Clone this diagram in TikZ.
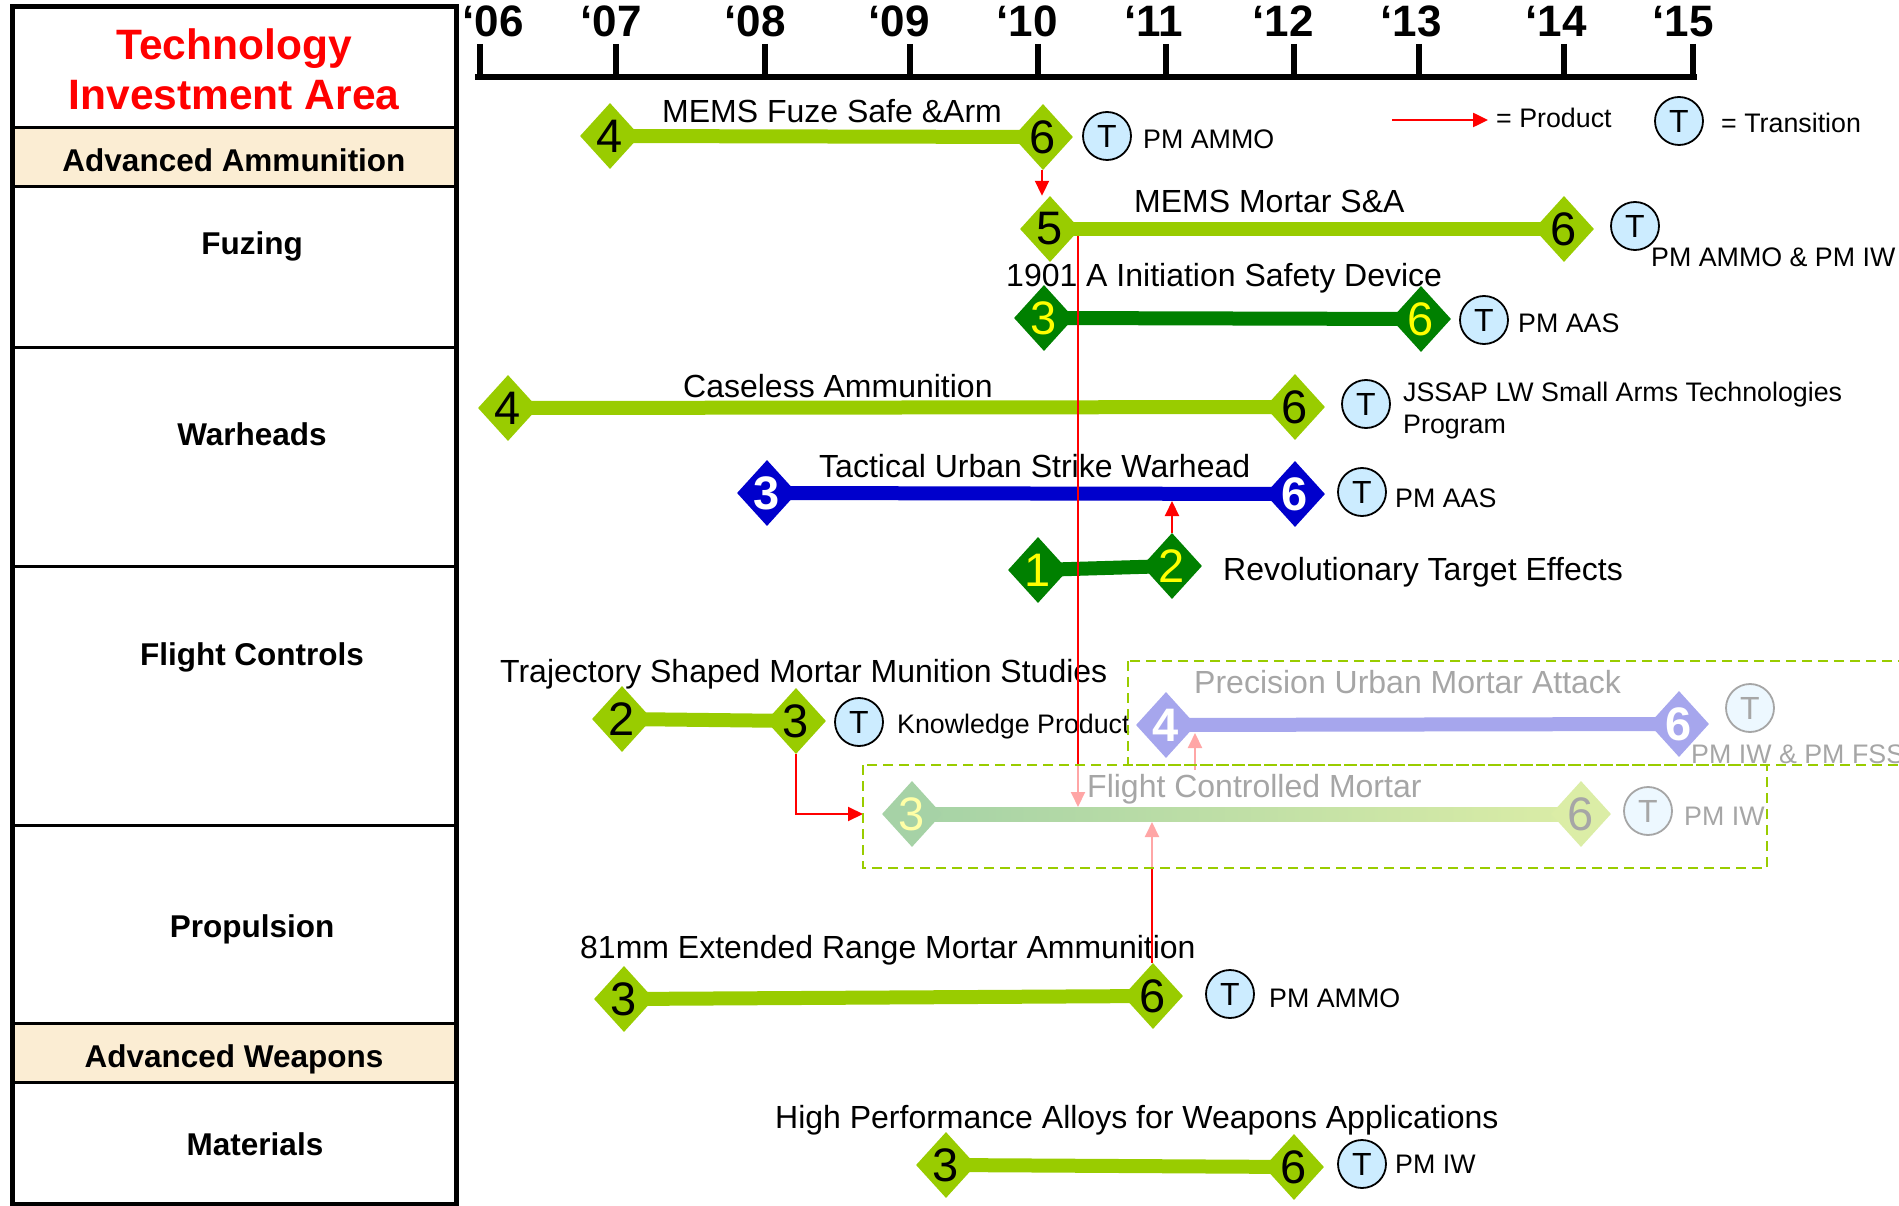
\documentclass[tikz,border=0pt]{standalone}
\usepackage{fontspec}
\setmainfont{Liberation Sans}
\usetikzlibrary{shapes.geometric,arrows.meta,calc}

\definecolor{cLime}{HTML}{99CC00}
\definecolor{cDark}{HTML}{008000}
\definecolor{cBlue}{HTML}{0000CC}
\definecolor{cYel}{HTML}{FFFF00}
\definecolor{cTfill}{HTML}{CCECFF}
\definecolor{cBand}{HTML}{FBEDD3}
\definecolor{cRed}{HTML}{FF0000}

\newcommand{\pxfont}[1]{\fontsize{#1}{#1}\selectfont}

\pgfdeclarelayer{bg}
\pgfdeclarelayer{fade}
\pgfdeclarelayer{top}
\pgfsetlayers{bg,main,fade,top}

\tikzset{
  dia/.style={diamond, minimum width=60pt, minimum height=66pt, inner sep=0pt, draw=none},
  limed/.style={dia, fill=cLime, label={[font=\pxfont{47}, text=black]center:#1}},
  darkd/.style={dia, fill=cDark, label={[font=\pxfont{47}, text=cYel]center:#1}},
  blued/.style={dia, fill=cBlue, label={[font=\pxfont{47}\bfseries, text=white]center:#1}},
  bar/.style={line width=14pt, draw=#1},
  tc/.style={circle, draw=black, line width=1.8pt, fill=cTfill, minimum size=48pt, inner sep=0pt, font=\pxfont{32}},
  lbl/.style={anchor=base west, inner sep=0pt, font=\pxfont{32}},
  pm/.style={anchor=base west, inner sep=0pt, font=\pxfont{26.8}},
  prod/.style={draw=cRed, line width=2pt, -{Triangle[length=15pt,width=14pt]}},
  yr/.style={anchor=base, inner sep=0pt, font=\pxfont{44}\bfseries},
  cat/.style={anchor=base, inner sep=0pt, font=\pxfont{31.5}\bfseries},
  dbox/.style={draw=cLime, line width=2.5pt, dash pattern=on 10pt off 6pt},
  rule/.style={draw=black, line width=3pt},
  veil/.style={fill=white, opacity=0.65}
}

\begin{document}
\begin{tikzpicture}[x=1pt, y=-1pt]
\useasboundingbox (0,0) rectangle (1899,1206);
\clip (0,0) rectangle (1899,1206);

% ---------- left panel: technology investment areas ----------
\fill[cBand] (12,128) rectangle (456,187);
\fill[cBand] (12,1023) rectangle (456,1082);
\foreach \yy in {128,187,348,566,825,1023,1082}
  \draw[rule] (12,\yy) -- (456,\yy);
\draw[line width=5pt] (12,7) rectangle (456,1204);

\node[anchor=base, inner sep=0pt, font=\pxfont{42.5}\bfseries, text=cRed] (h1) at (234,60) {Technology};
\node[anchor=base, inner sep=0pt, font=\pxfont{42.5}\bfseries, text=cRed] (h2) at (234,110) {Investment Area};
\node[cat] (ca1) at (234,172) {Advanced Ammunition};
\node[cat] (ca2) at (252,255) {Fuzing};
\node[cat] (ca3) at (252,445) {Warheads};
\node[cat] (ca4) at (252,665) {Flight Controls};
\node[cat] (ca5) at (252,937) {Propulsion};
\node[cat] (ca6) at (234,1067) {Advanced Weapons};
\node[cat] (ca7) at (255,1155) {Materials};

% ---------- time axis ----------
\draw[line width=6pt] (475,77) -- (1697,77);
\foreach \xx in {480,616,765,910,1038,1166,1294,1419,1564,1693}
  \draw[line width=6pt] (\xx,44) -- (\xx,77);
\node[yr] (y06) at (493,37) {‘06};
\node[yr] (y07) at (611,37) {‘07};
\node[yr] (y08) at (755,37) {‘08};
\node[yr] (y09) at (899,37) {‘09};
\node[yr] (y10) at (1027,37) {‘10};
\node[yr] (y11) at (1154,37) {‘11};
\node[yr] (y12) at (1283,37) {‘12};
\node[yr] (y13) at (1411,37) {‘13};
\node[yr] (y14) at (1556,37) {‘14};
\node[yr] (y15) at (1683,37) {‘15};

% ---------- legend ----------
\coordinate (la) at (1392,120);
\coordinate (lb) at (1488,120);
\draw[prod, line width=2.5pt] (la) -- (lb);
\node[pm] (lg1) at (1496,128) {= Product};
\node[tc] (lgt) at (1679,121) {T};
\node[pm] (lg2) at (1721,133) {= Transition};

% ---------- programs: milestone diamonds ----------
% MEMS Fuze Safe & Arm
\node[limed=4] (a1) at (610,136) {};
\node[limed=6] (a2) at (1043,137) {};
\node[lbl] (at) at (662,123) {MEMS Fuze Safe \&Arm};
\node[tc] (ac) at (1107,136) {T};
\node[pm] (ap) at (1143,149) {PM AMMO};

% MEMS Mortar S&A
\node[limed=5] (b1) at (1050,229) {};
\node[limed=6] (b2) at (1564,229) {};
\node[lbl] (bt) at (1134,213) {MEMS Mortar S\&A};
\node[tc] (bc) at (1635,226) {T};
\node[pm] (bp) at (1651,267) {PM AMMO \& PM IW};

% 1901 A Initiation Safety Device
\node[darkd=3] (c1) at (1044,318) {};
\node[darkd=6] (c2) at (1421,319) {};
\node[lbl] (ct) at (1006,287) {1901 A Initiation Safety Device};
\node[tc] (cc) at (1484,320) {T};
\node[pm] (cp) at (1518,333) {PM AAS};

% Caseless Ammunition
\node[limed=4] (d1) at (508,408) {};
\node[limed=6] (d2) at (1295,407) {};
\node[lbl] (dt) at (683,397) {Caseless Ammunition};
\node[tc] (dc) at (1366,404) {T};
\node[pm] (dp) at (1403,402) {JSSAP LW Small Arms Technologies};
\node[pm] (dp2) at (1403,433) {Program};

% Tactical Urban Strike Warhead
\node[blued=3] (e1) at (767,493) {};
\node[blued=6] (e2) at (1295,494) {};
\node[lbl] (et) at (819,477) {Tactical Urban Strike Warhead};
\node[tc] (ec) at (1362,492) {T};
\node[pm] (ep) at (1395,507) {PM AAS};

% Revolutionary Target Effects
\node[darkd=1] (f1) at (1038,570) {};
\node[darkd=2] (f2) at (1172,566) {};
\node[lbl] (ft) at (1223,580) {Revolutionary Target Effects};

% Trajectory Shaped Mortar Munition Studies
\node[limed=2] (g1) at (622,719) {};
\node[limed=3] (g2) at (796,721) {};
\node[lbl] (gt) at (500,682) {Trajectory Shaped Mortar Munition Studies};
\node[tc] (gc) at (859,722) {T};
\node[pm] (gp) at (897,733) {Knowledge Product};

% Precision Urban Mortar Attack
\node[blued=4] (p1) at (1166,725) {};
\node[blued=6] (p2) at (1679,724) {};
\node[lbl] (pt) at (1194,693) {Precision Urban Mortar Attack};
\node[tc] (pc) at (1750,708) {T};
\node[pm] (pp) at (1691,763) {PM IW \& PM FSS};

% Flight Controlled Mortar
\node[darkd=3] (m1) at (912,814) {};
\node[limed=6] (m2) at (1581,814) {};
\node[lbl] (mt) at (1087,797) {Flight Controlled Mortar};
\node[tc] (mc) at (1648,811) {T};
\node[pm] (mp) at (1684,825) {PM IW};

% 81mm Extended Range Mortar Ammunition
\node[limed=3] (n1) at (624,999) {};
\node[limed=6] (n2) at (1153,996) {};
\node[lbl] (nt) at (580,958) {81mm Extended Range Mortar Ammunition};
\node[tc] (nc) at (1230,994) {T};
\node[pm] (np) at (1269,1007) {PM AMMO};

% High Performance Alloys for Weapons Applications
\node[limed=3] (q1) at (946,1165) {};
\node[limed=6] (q2) at (1294,1167) {};
\node[lbl] (qt) at (775,1128) {High Performance Alloys for Weapons Applications};
\node[tc] (qc) at (1362,1164) {T};
\node[pm] (qp) at (1395,1173) {PM IW};

% ---------- bars between milestones ----------
\begin{pgfonlayer}{bg}
  \draw[bar=cLime] (a1.center) -- (a2.center);
  \draw[bar=cLime] (b1.center) -- (b2.center);
  \draw[bar=cDark] (c1.center) -- (c2.center);
  \draw[bar=cLime] (d1.center) -- (d2.center);
  \draw[bar=cBlue] (e1.center) -- (e2.center);
  \draw[bar=cDark] (f1.center) -- (f2.center);
  \draw[bar=cLime] (g1.center) -- (g2.center);
  \draw[bar=cBlue] (p1.center) -- (p2.center);
  \shade[left color=cDark, right color=cLime] ($(m1.center)+(0,-7)$) rectangle ($(m2.center)+(0,7)$);
  \draw[bar=cLime] (n1.center) -- (n2.center);
  \draw[bar=cLime] (q1.center) -- (q2.center);
\end{pgfonlayer}

% ---------- product hand-offs ----------
\coordinate (sa) at (1078,236);
\coordinate (sb) at (1078,807);
\coordinate (tw) at (1172,501);
\coordinate (fw) at (863,814);
\coordinate (fb) at (1152,822);
\coordinate (pa) at (1195,770);
\coordinate (pb) at (1195,733);
\draw[prod] ([xshift=-1pt]a2.south) -- ([xshift=-1pt]a2.south |- b1.north);
\draw[prod] (sa) -- (sb);
\draw[prod] (f2.north) -- (f2.north |- tw);
\draw[prod] (g2.south) |- (fw);
\draw[prod] ([xshift=-1pt]n2.north) -- ([xshift=-1pt]n2.north |- fb);
\draw[prod] (pa) -- (pb);

% ---------- planned efforts: veiled boxes ----------
\begin{pgfonlayer}{fade}
  \fill[veil] (1128,661) rectangle (1910,765);
  \fill[veil] (863,765) rectangle (1767,868);
\end{pgfonlayer}
\begin{pgfonlayer}{top}
  \draw[dbox] (1128,661) rectangle (1910,765);
  \draw[dbox] (863,765) rectangle (1767,868);
\end{pgfonlayer}
\end{tikzpicture}
\end{document}
